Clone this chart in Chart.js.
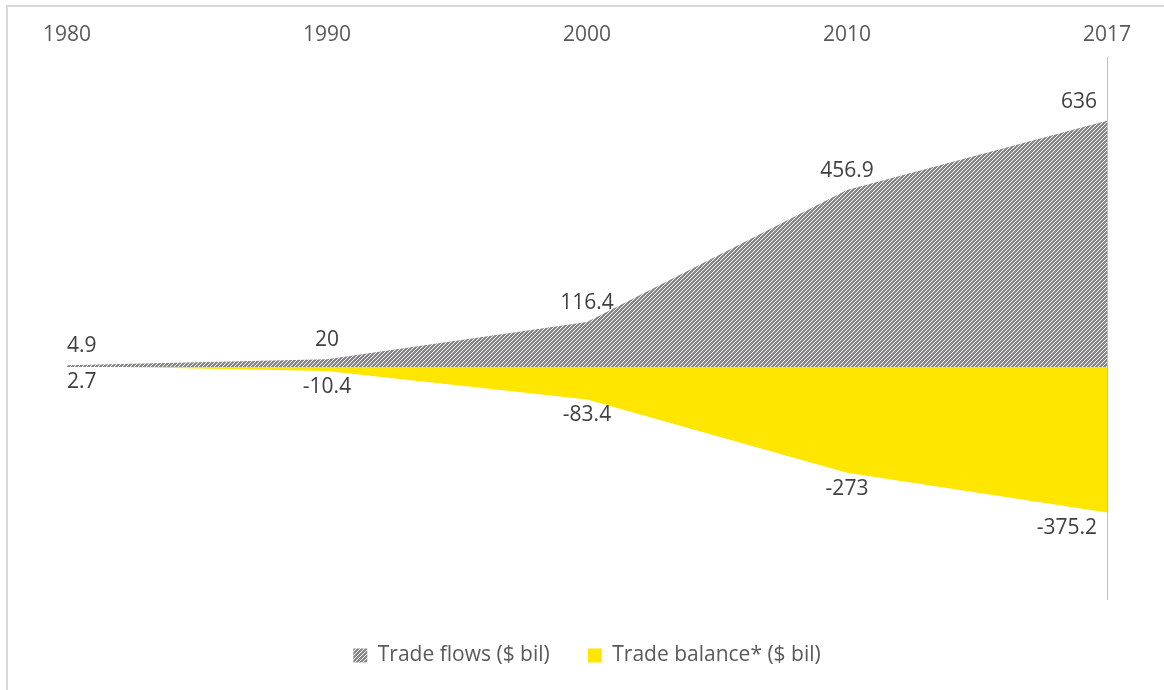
<!DOCTYPE html>
<html>
<head>
<meta charset="utf-8">
<script src="https://cdn.jsdelivr.net/npm/chart.js@4.4.1/dist/chart.umd.min.js"></script>
<style>
  html, body { margin: 0; padding: 0; background: #fff; overflow: hidden; }
  #frame { position: absolute; left: 6px; top: 5px; width: 2000px; height: 2000px;
           border-left: 2px solid #d9d9d9; border-top: 2px solid #d9d9d9; }
  #chart-box { position: absolute; left: 0; top: 0; width: 1164px; height: 690px; }
</style>
</head>
<body>
<div id="frame"></div>
<div id="chart-box"><canvas id="my-chart" width="1164" height="690"></canvas></div>
<script>
"use strict";
const years = ["1980", "1990", "2000", "2010", "2017"];
const tradeFlows = [4.9, 20, 116.4, 456.9, 636];
const tradeBalance = [2.7, -10.4, -83.4, -273, -375.2];
const seriesNames = ["Trade flows ($ bil)", "Trade balance* ($ bil)"];

Chart.defaults.font.family = '"Open Sans", sans-serif';

// hatch fill for the trade flows area (upward diagonal stripes)
function makeHatch() {
  const c = document.createElement("canvas");
  c.width = 8;
  c.height = 8;
  const g = c.getContext("2d");
  const img = g.createImageData(8, 8);
  for (let y = 0; y < 8; y++) {
    for (let x = 0; x < 8; x++) {
      const k = (y * 8 + x) * 4;
      const light = (x + y) % 4 === 0;
      const v = light ? 250 : 135;
      img.data[k] = v;
      img.data[k + 1] = v;
      img.data[k + 2] = v;
      img.data[k + 3] = 255;
    }
  }
  g.putImageData(img, 0, 0);
  return g.createPattern(c, "repeat");
}

// draws the value next to each point, kept inside the plot area
const valueLabels = {
  id: "valueLabels",
  afterDatasetsDraw(chart) {
    const ctx = chart.ctx;
    const area = chart.chartArea;
    ctx.save();
    ctx.font = '21px "Open Sans", sans-serif';
    ctx.fillStyle = "#404040";
    ctx.textAlign = "center";
    ctx.textBaseline = "middle";
    chart.data.datasets.forEach((ds, i) => {
      const meta = chart.getDatasetMeta(i);
      meta.data.forEach((pt, j) => {
        const text = String(ds.data[j]);
        const w = ctx.measureText(text).width;
        let x = Math.max(pt.x, area.left + w / 2);
        x = Math.min(x, area.right - w / 2 - 10);
        ctx.fillText(text, x, pt.y + ds.labelOffset);
      });
    });
    ctx.restore();
  },
};

const ctx = document.getElementById("my-chart");
const myChart = new Chart(ctx, {
  type: "line",
  data: {
    labels: years,
    datasets: [
      {
        label: seriesNames[0],
        data: tradeFlows,
        backgroundColor: makeHatch(),
        borderWidth: 0,
        pointRadius: 0,
        fill: "origin",
        tension: 0,
        labelOffset: -19,
      },
      {
        label: seriesNames[1],
        data: tradeBalance,
        backgroundColor: "#ffe600",
        borderWidth: 0,
        pointRadius: 0,
        fill: "origin",
        tension: 0,
        labelOffset: 16,
      },
    ],
  },
  options: {
    responsive: false,
    animation: false,
    layout: { padding: { left: 67, right: 57, top: 12, bottom: 14 } },
    scales: {
      x: {
        position: "top",
        offset: false,
        grid: { display: false, drawTicks: false },
        border: { display: false },
        ticks: { color: "#595959", font: { size: 21 }, padding: 10, maxRotation: 0 },
      },
      y: {
        position: "right",
        min: -600,
        max: 800,
        grid: { display: false, drawTicks: false },
        border: { display: true, color: "#bfbfbf", width: 1 },
        ticks: { display: false },
      },
    },
    plugins: {
      tooltip: { enabled: false },
      legend: {
        position: "bottom",
        title: { display: true, text: "", font: { size: 6, lineHeight: 1 }, padding: { top: 0, bottom: 1.5 } },
        labels: {
          color: "#595959",
          font: { size: 21 },
          boxWidth: 14,
          boxHeight: 14,
          padding: 38,
        },
      },
    },
  },
  plugins: [valueLabels],
});
</script>
</body>
</html>
